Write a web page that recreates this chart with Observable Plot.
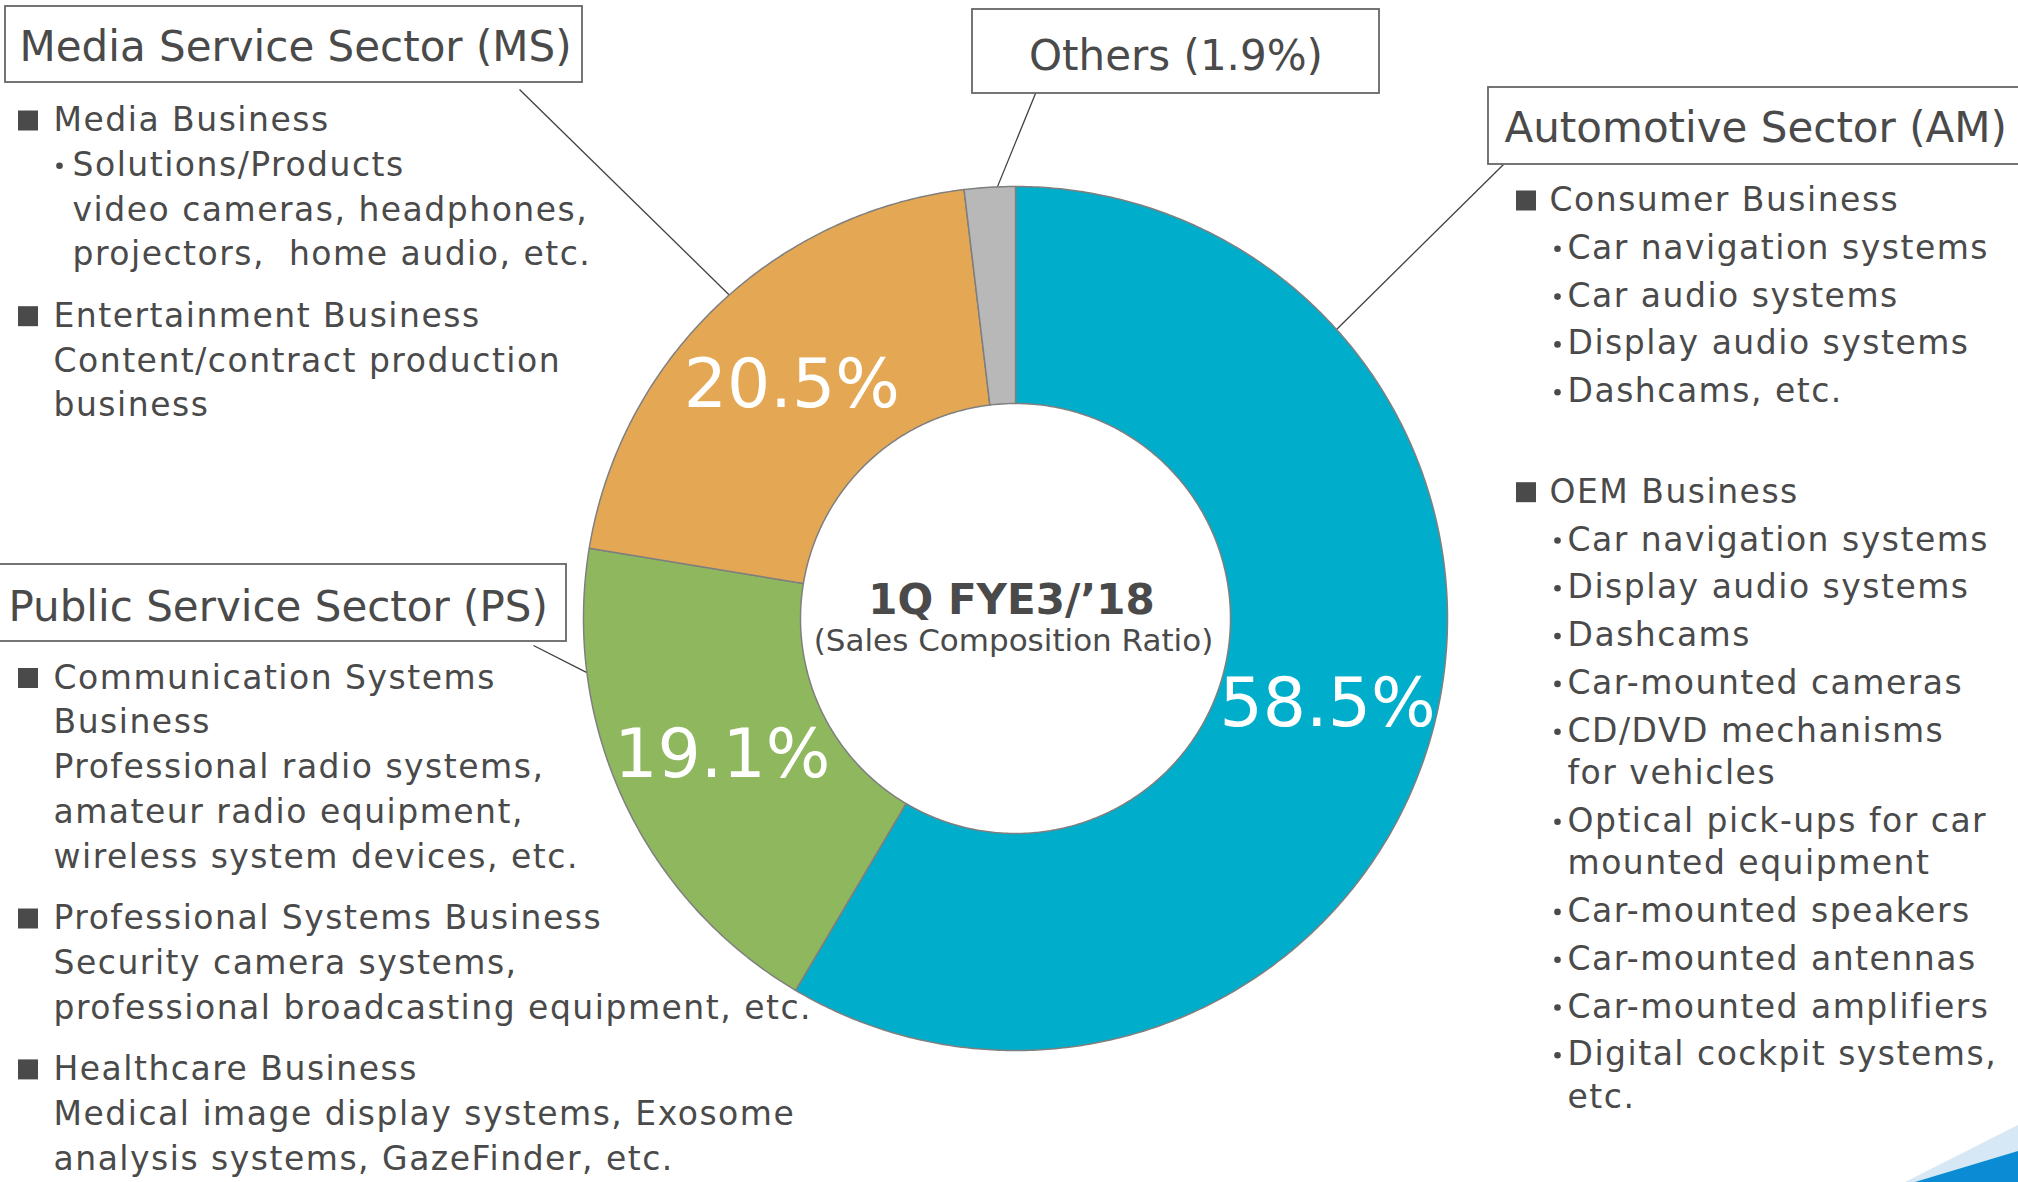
<!DOCTYPE html>
<html>
<head>
<meta charset="utf-8">
<script src="https://cdn.jsdelivr.net/npm/d3@7"></script>
<script src="https://cdn.jsdelivr.net/npm/@observablehq/plot@0.6"></script>
<style>
  html, body { margin: 0; padding: 0; background: #ffffff; overflow: hidden; }
  #chart { position: relative; width: 2018px; height: 1182px; overflow: hidden; }
  #chart svg { display: block; }
</style>
</head>
<body>
<div id="chart"></div>
<script>
// ---------------- DATA ----------------
const sectorKeys   = ["AM", "PS", "MS", "Others"];
const sectorNames  = ["Automotive Sector (AM)", "Public Service Sector (PS)", "Media Service Sector (MS)", "Others (1.9%)"];
const sectorShares = [58.5, 19.1, 20.5, 1.9];

const centerTitle    = "1Q FYE3/\u201918";
const centerSubtitle = "(Sales Composition Ratio)";

const msLines = [
  ["head", "Media Business"],
  ["item", "Solutions/Products"],
  ["wrap", "video cameras, headphones,"],
  ["wrap", "projectors,  home audio, etc."],
  ["head", "Entertainment Business"],
  ["desc", "Content/contract production"],
  ["desc", "business"]
];
const psLines = [
  ["head", "Communication Systems"],
  ["desc", "Business"],
  ["desc", "Professional radio systems,"],
  ["desc", "amateur radio equipment,"],
  ["desc", "wireless system devices, etc."],
  ["head", "Professional Systems Business"],
  ["desc", "Security camera systems,"],
  ["desc", "professional broadcasting equipment, etc."],
  ["head", "Healthcare Business"],
  ["desc", "Medical image display systems, Exosome"],
  ["desc", "analysis systems, GazeFinder, etc."]
];
const amLines = [
  ["head", "Consumer Business"],
  ["item", "Car navigation systems"],
  ["item", "Car audio systems"],
  ["item", "Display audio systems"],
  ["item", "Dashcams, etc."],
  ["head", "OEM Business"],
  ["item", "Car navigation systems"],
  ["item", "Display audio systems"],
  ["item", "Dashcams"],
  ["item", "Car-mounted cameras"],
  ["item", "CD/DVD mechanisms"],
  ["wrap", "for vehicles"],
  ["item", "Optical pick-ups for car"],
  ["wrap", "mounted equipment"],
  ["item", "Car-mounted speakers"],
  ["item", "Car-mounted antennas"],
  ["item", "Car-mounted amplifiers"],
  ["item", "Digital cockpit systems,"],
  ["wrap", "etc."]
];

// ---------------- STYLE / LAYOUT ----------------
const W = 2018, H = 1182;
const colors = {AM: "#00aecb", PS: "#8fb85e", MS: "#e4a855", Others: "#b8b8b8"};
const textColor = "#4a4a4a";
const ring = {cx: 1015, cy: 618, outer: 432, inner: 215};
const bodySize = 33, bodySpacing = "1.5px";

const boxes = {
  MS:     {x1: 5,    x2: 582,  y1: 6,   y2: 82,  tx: 19,     ty: 60,  anchor: "start"},
  Others: {x1: 972,  x2: 1379, y1: 9,   y2: 93,  tx: 1175.5, ty: 69,  anchor: "middle"},
  AM:     {x1: 1488, x2: 2040, y1: 87,  y2: 164, tx: 1504,   ty: 141, anchor: "start"},
  PS:     {x1: -2,   x2: 566,  y1: 564, y2: 641, tx: 8,      ty: 620, anchor: "start"}
};
const leaders = {
  MS:     {x: 519,  y: 89,  angle: 318.5},
  Others: {x: 1035, y: 93,  angle: 357.6},
  AM:     {x: 1503, y: 164, angle: 48},
  PS:     {x: 533,  y: 645, angle: 262.8}
};
const columns = [
  {lines: msLines, y0: 130.5, step: 44.8, wrapStep: 44.8, gap: 16.5, sq: 18,   head: 53,   dot: 59,   item: 72},
  {lines: psLines, y0: 688,   step: 44.8, wrapStep: 44.8, gap: 16.5, sq: 18,   head: 53,   dot: 59,   item: 72},
  {lines: amLines, y0: 210.5, step: 47.8, wrapStep: 42.3, gap: 52.7, sq: 1516, head: 1549, dot: 1557, item: 1567}
];

// ---------------- DERIVED ----------------
const sectors = sectorKeys.map((key, i) => ({key, name: sectorNames[i], share: sectorShares[i]}));
const arcs = d3.pie().sort(null).value(d => d.share).startAngle(0).endAngle(2 * Math.PI)(sectors);
const pt = (a, r) => [ring.cx + r * Math.sin(a), ring.cy - r * Math.cos(a)];

const slicePts = arcs.flatMap(a => {
  const n = Math.max(2, Math.ceil((a.endAngle - a.startAngle) / (Math.PI / 360)));
  const ts = d3.range(n + 1).map(i => a.startAngle + (a.endAngle - a.startAngle) * i / n);
  const pts = [...ts.map(t => pt(t, ring.outer)), ...ts.slice().reverse().map(t => pt(t, ring.inner))];
  return pts.map(([x, y]) => ({key: a.data.key, x, y}));
});

const pctLabels = arcs.filter(a => a.data.share > 5).map(a => {
  const [x, y] = pt((a.startAngle + a.endAngle) / 2, (ring.outer + ring.inner) / 2);
  return {x, y, label: d3.format(".1f")(a.data.share) + "%"};
});

const boxRows = sectors.map(s => ({...boxes[s.key], name: s.name}));

const leaderRows = sectorKeys.map(k => {
  const L = leaders[k];
  const [x2, y2] = pt(L.angle * Math.PI / 180, ring.outer);
  return {x1: L.x, y1: L.y, x2, y2};
});

const textRows = columns.flatMap(col => {
  let y = col.y0;
  return col.lines.map(([kind, text], i) => {
    if (i > 0) y += kind === "head" ? col.step + col.gap : kind === "wrap" ? col.wrapStep : col.step;
    const x = kind === "head" || kind === "desc" ? col.head : col.item;
    return {kind, text, x, y, sq: col.sq, dot: col.dot};
  });
});

// ---------------- PLOT ----------------
const chart = Plot.plot({
  width: W,
  height: H,
  margin: 0,
  x: {domain: [0, W], range: [0, W], axis: null},
  y: {domain: [0, H], range: [0, H], axis: null},
  color: {domain: sectorKeys, range: sectorKeys.map(k => colors[k])},
  style: {fontFamily: "'DejaVu Sans', Verdana, sans-serif", background: "#ffffff", color: textColor},
  marks: [
    Plot.link(leaderRows, {x1: "x1", y1: "y1", x2: "x2", y2: "y2", stroke: "#404040", strokeWidth: 1.3}),
    Plot.line(slicePts, {x: "x", y: "y", z: "key", fill: "key", stroke: "#7f7f7f", strokeWidth: 1.5, curve: "linear-closed"}),
    Plot.text(pctLabels, {x: "x", y: "y", text: "label", fill: "#ffffff", fontSize: 68, textAnchor: "middle", lineAnchor: "middle"}),
    Plot.text([centerTitle], {x: ring.cx - 4, y: ring.cy - 5, text: d => d, fill: textColor, fontSize: 42, fontWeight: "bold", textAnchor: "middle", lineAnchor: "bottom"}),
    Plot.text([centerSubtitle], {x: ring.cx - 2, y: ring.cy + 32, text: d => d, fill: textColor, fontSize: 31, textAnchor: "middle", lineAnchor: "bottom"}),
    Plot.rect(boxRows, {x1: "x1", x2: "x2", y1: "y1", y2: "y2", fill: "#ffffff", stroke: "#666666", strokeWidth: 1.8}),
    Plot.text(boxRows.filter(d => d.anchor === "start"), {x: "tx", y: "ty", text: "name", textAnchor: "start", fill: textColor, fontSize: 42, lineAnchor: "bottom"}),
    Plot.text(boxRows.filter(d => d.anchor === "middle"), {x: "tx", y: "ty", text: "name", textAnchor: "middle", fill: textColor, fontSize: 42, lineAnchor: "bottom"}),
    Plot.rect(textRows.filter(d => d.kind === "head"), {x1: "sq", x2: d => d.sq + 20, y1: d => d.y - 20, y2: "y", fill: textColor}),
    Plot.dot(textRows.filter(d => d.kind === "item"), {x: "dot", y: d => d.y - 10, r: 3.3, fill: textColor, stroke: null}),
    Plot.text(textRows, {x: "x", y: "y", text: "text", textAnchor: "start", lineAnchor: "bottom", fill: textColor, fontSize: bodySize})
  ]
});
document.getElementById("chart").appendChild(chart);

// body text is set with a little tracking, as in the slide
d3.select(chart).selectAll(`g[font-size="${bodySize}"] text`).style("letter-spacing", bodySpacing);

// decorative corner swoosh of the slide
const deco = d3.select("#chart").append("svg")
  .attr("width", W).attr("height", H)
  .style("position", "absolute").style("left", 0).style("top", 0).style("pointer-events", "none");
deco.append("polygon").attr("points", "1905,1182 2018,1125 2018,1182").attr("fill", "#d6e8f5");
deco.append("polygon").attr("points", "1915,1182 2018,1151 2018,1182").attr("fill", "#0a8bd3");
</script>
</body>
</html>
